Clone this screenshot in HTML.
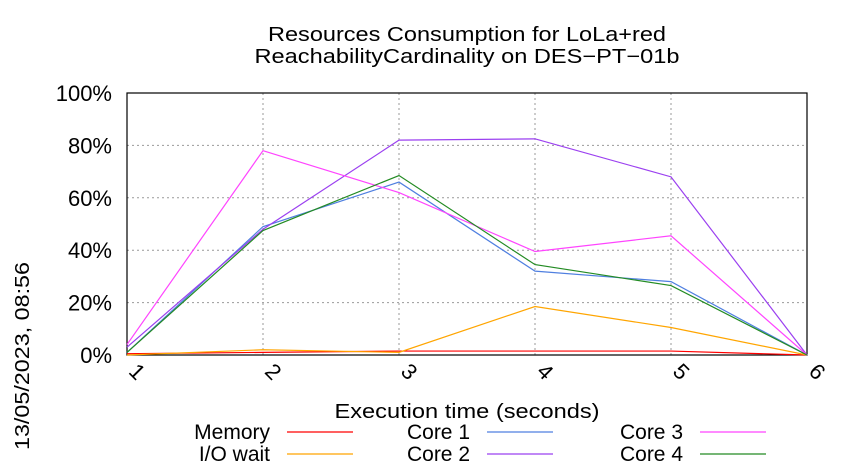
<!DOCTYPE html>
<html><head><meta charset="utf-8"><style>
body{margin:0;background:#fff}
svg{display:block;font-family:"Liberation Sans",sans-serif}
</style></head><body>
<svg id="c" width="850" height="475">
<text x="467" y="41" font-size="20" text-anchor="middle" textLength="398" lengthAdjust="spacingAndGlyphs">Resources Consumption for LoLa+red</text>
<text x="467" y="63" font-size="20" text-anchor="middle" textLength="425" lengthAdjust="spacingAndGlyphs">ReachabilityCardinality on DES−PT−01b</text>
<text transform="translate(29,356) rotate(-90)" font-size="20" text-anchor="middle" textLength="188" lengthAdjust="spacingAndGlyphs">13/05/2023, 08:56</text>
<text x="467" y="418" font-size="20" text-anchor="middle" textLength="265" lengthAdjust="spacingAndGlyphs">Execution time (seconds)</text>
<g id="grid"></g><g id="series"></g><g id="legend"></g>
</svg>
<script>
const xCats=[1,2,3,4,5,6];
const yTicks=[0,20,40,60,80,100];
const memory=[0.5,1,1.5,1.5,1.5,0];
const ioWait=[0,2,1,18.5,10.5,0];
const core1=[1,49,66,32,28,0];
const core2=[3,48,82,82.5,68,0];
const core3=[4,78,62,39.5,45.5,0];
const core4=[1,47.5,68.5,34.5,26.5,0];
const L=127,R=807,T=93,B=355;
const xs=v=>L+(v-1)*(R-L)/5;
const ys=v=>B-v*(B-T)/100;
const NS="http://www.w3.org/2000/svg";
function mk(t,a,p){const e=document.createElementNS(NS,t);for(const k in a)e.setAttribute(k,a[k]);p.appendChild(e);return e;}
const g=document.getElementById('grid');
yTicks.forEach(v=>{
 const l=mk('line',{x1:L,x2:R,y1:ys(v),y2:ys(v),stroke:'#999','stroke-dasharray':'2,3'},g);
 
 
 const t=mk('text',{x:112,y:ys(v)+8,'font-size':22,'text-anchor':'end'},g);t.textContent=v+'%';
 
 
});
xCats.forEach(v=>{
 const l=mk('line',{x1:xs(v),x2:xs(v),y1:T,y2:B,stroke:'#999','stroke-dasharray':'2,3'},g);
 
 
 const t=mk('text',{transform:`translate(${xs(v)+5},${B+22}) rotate(45)`,'font-size':22,'text-anchor':'middle'},g);t.textContent=v;
 
 
});
const fr=mk('rect',{x:L,y:T,width:R-L,height:B-T,fill:'none',stroke:'#000','stroke-width':1.2},g);


const series=[["Memory",memory,"#ff0000"],["I/O wait",ioWait,"#ffa500"],["Core 1",core1,"#4f7fe0"],["Core 2",core2,"#9b40f0"],["Core 3",core3,"#ff44ff"],["Core 4",core4,"#238b23"]];
const sg=document.getElementById('series'),lg=document.getElementById('legend');
const lp=[[270,432],[270,454],[470,432],[470,454],[683,432],[683,454]];
series.forEach((s,i)=>{
 const p=mk('polyline',{points:s[1].map((v,j)=>xs(xCats[j])+','+ys(v)).join(' '),fill:'none',stroke:s[2],'stroke-width':1.2},sg);
 
 
 const [x,y]=lp[i];
 const t=mk('text',{x:x,y:y+7,'font-size':21,'text-anchor':'end'},lg);t.textContent=s[0];
 
 
 const l=mk('line',{x1:x+17,x2:x+83,y1:y,y2:y,stroke:s[2],'stroke-width':1.2},lg);
 
 
});
</script>
</body></html>
